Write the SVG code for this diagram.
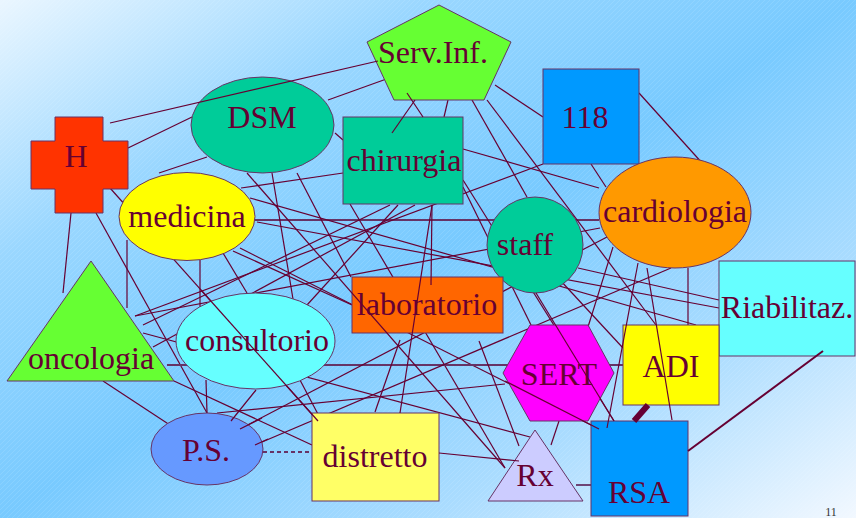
<svg xmlns="http://www.w3.org/2000/svg" width="856" height="518" viewBox="0 0 856 518">
<defs>
<linearGradient id="bg" x1="0" y1="0" x2="1" y2="1">
<stop offset="0" stop-color="#eaf6ff"/>
<stop offset="0.25" stop-color="#9ad7ff"/>
<stop offset="0.5" stop-color="#78caff"/>
<stop offset="0.75" stop-color="#aadcff"/>
<stop offset="1" stop-color="#f2f8ff"/>
</linearGradient>
<pattern id="hatch" width="5" height="5" patternUnits="userSpaceOnUse">
<path d="M0,5 L5,0" stroke="#ffffff" stroke-width="0.6" opacity="0.18"/>
</pattern>
<style>
.n{stroke:#663366;stroke-width:1}
.t{font-family:"Liberation Serif","Times New Roman",serif;font-size:32px;fill:#660033;text-anchor:middle}
.c line{stroke:#660033;stroke-width:1.2;fill:none}
.c line.w{stroke:#663366;stroke-width:1.8}
</style>
</defs>
<rect width="856" height="518" fill="url(#bg)"/>
<rect width="856" height="518" fill="url(#hatch)"/>

<g id="connectors" class="c">
<line x1="128" y1="148" x2="192" y2="117"/>
<line x1="328" y1="100" x2="392" y2="77"/>
<line x1="335" y1="133" x2="343" y2="140"/>
<line x1="159" y1="173" x2="207" y2="157"/>
<line x1="241" y1="188" x2="343" y2="173"/>
<line class="w" x1="255" y1="220" x2="599" y2="220"/>
<line x1="448" y1="100" x2="444" y2="117"/>
<line x1="495" y1="85" x2="543" y2="117"/>
<line x1="472" y1="100" x2="527" y2="197"/>
<line x1="487" y1="100" x2="656" y2="325"/>
<line x1="639" y1="93" x2="703" y2="164"/>
<line x1="543" y1="164" x2="135" y2="316"/>
<line x1="591" y1="164" x2="606" y2="187"/>
<line x1="463" y1="149" x2="599" y2="188"/>
<line x1="463" y1="180" x2="614" y2="421"/>
<line x1="463" y1="187" x2="531" y2="325"/>
<line x1="390" y1="205" x2="143" y2="325"/>
<line x1="398" y1="205" x2="307" y2="305"/>
<line x1="350" y1="204" x2="505" y2="468"/>
<line x1="135" y1="316" x2="600" y2="228"/>
<line x1="153" y1="347" x2="415" y2="205"/>
<line x1="143" y1="333" x2="530" y2="437"/>
<line x1="257" y1="222" x2="719" y2="308"/>
<line x1="250" y1="198" x2="696" y2="325"/>
<line x1="240" y1="248" x2="599" y2="429"/>
<line x1="200" y1="260" x2="200" y2="307"/>
<line x1="127" y1="240" x2="127" y2="308"/>
<line x1="223" y1="253" x2="247" y2="293"/>
<line x1="233" y1="251" x2="352" y2="305"/>
<line x1="96" y1="213" x2="207" y2="413"/>
<line x1="110" y1="188" x2="318" y2="421"/>
<line x1="71" y1="213" x2="63" y2="293"/>
<line x1="103" y1="381" x2="176" y2="429"/>
<line x1="174" y1="381" x2="312" y2="445"/>
<line class="w" x1="167" y1="365" x2="623" y2="365"/>
<line x1="206" y1="380" x2="207" y2="413"/>
<line x1="240" y1="429" x2="607" y2="237"/>
<line x1="255" y1="445" x2="671" y2="268"/>
<line x1="217" y1="413" x2="505" y2="384"/>
<line x1="300" y1="380" x2="320" y2="418"/>
<line x1="375" y1="412" x2="400" y2="340"/>
<line x1="272" y1="173" x2="293" y2="299"/>
<line x1="297" y1="173" x2="351" y2="277"/>
<line x1="560" y1="280" x2="623" y2="348"/>
<line x1="578" y1="268" x2="719" y2="300"/>
<line x1="613" y1="247" x2="588" y2="327"/>
<line x1="688" y1="268" x2="688" y2="325"/>
<line x1="559" y1="421" x2="551" y2="445"/>
<line class="w" x1="576" y1="485" x2="591" y2="485"/>
<line class="w" x1="263" y1="452" x2="312" y2="452" stroke-dasharray="4 3"/>
</g>

<g id="n-servinf"><polygon class="n" points="439,5 511,42 484,100 394,100 367,42" fill="#66ff33"/><text class="t" x="433" y="63">Serv.Inf.</text></g>
<g id="n-h"><polygon class="n" points="55,117 103,117 103,141 128,141 128,189 103,189 103,213 55,213 55,189 31,189 31,141 55,141" fill="#ff3300"/><text class="t" x="76" y="167">H</text></g>
<g id="n-dsm"><ellipse class="n" cx="262.5" cy="125" rx="71.5" ry="48" fill="#00cc99"/><text class="t" x="262" y="128">DSM</text></g>
<g id="n-chirurgia"><rect class="n" x="343" y="117" width="120" height="87" fill="#00cc99"/><text class="t" x="404" y="171">chirurgia</text></g>
<g id="n-118"><rect class="n" x="543" y="69" width="96" height="95" fill="#0099ff"/><text class="t" x="585" y="128">118</text></g>
<g id="n-medicina"><ellipse class="n" cx="187" cy="216.5" rx="68" ry="44" fill="#ffff00"/><text class="t" x="187" y="227">medicina</text></g>
<g id="n-cardiologia"><ellipse class="n" cx="675" cy="212.5" rx="76" ry="55.5" fill="#ff9900"/><text class="t" x="675" y="222">cardiologia</text></g>
<g id="n-staff"><circle class="n" cx="535" cy="245" r="48" fill="#00cc99"/><text class="t" x="525" y="255">staff</text></g>
<g id="n-laboratorio"><rect class="n" x="352" y="277" width="151" height="56" fill="#ff6600"/><text class="t" x="427" y="315">laboratorio</text></g>
<g id="n-riabilitaz"><rect class="n" x="719" y="261" width="136" height="95" fill="#66ffff"/><text class="t" x="787" y="318">Riabilitaz.</text></g>
<g id="n-adi"><rect class="n" x="623" y="325" width="96" height="80" fill="#ffff00"/><text class="t" x="671" y="377">ADI</text></g>
<g id="n-sert"><polygon class="n" points="503,373 530,325 588,325 614,373 588,421 530,421" fill="#ff00ff"/><text class="t" x="559" y="385">SERT</text></g>
<g id="n-rsa"><rect class="n" x="591" y="421" width="97" height="95" fill="#0099ff"/><text class="t" x="639" y="503">RSA</text></g>
<g id="n-rx"><polygon class="n" points="535,430 583,501 488,501" fill="#ccccff"/><text class="t" x="535" y="486">Rx</text></g>
<g id="n-distretto"><rect class="n" x="312" y="413" width="127" height="88" fill="#ffff66"/><text class="t" x="375" y="467">distretto</text></g>
<g id="n-ps"><ellipse class="n" cx="207" cy="449" rx="56" ry="36" fill="#6699ff"/><text class="t" x="206" y="461">P.S.</text></g>
<g id="n-consultorio"><ellipse class="n" cx="255.5" cy="341" rx="79.5" ry="48" fill="#66ffff"/><text class="t" x="257" y="351">consultorio</text></g>
<g id="n-oncologia"><polygon class="n" points="91,261 174,381 7,381" fill="#66ff33"/><text class="t" x="91" y="369">oncologia</text></g>

<g id="connectors-top" class="c">
<line x1="110" y1="123" x2="378" y2="61"/>
<line x1="407" y1="93" x2="423" y2="117"/>
<line x1="415" y1="100" x2="392" y2="133"/>
<line x1="432" y1="205" x2="431" y2="285"/>
<line x1="432" y1="205" x2="400" y2="413"/>
<line x1="201" y1="290" x2="318" y2="421"/>
<line x1="256" y1="390" x2="231" y2="421"/>
<line x1="240" y1="429" x2="262" y2="418"/>
<line x1="255" y1="445" x2="268" y2="439"/>
<line x1="439" y1="453" x2="519" y2="461"/>
<line x1="479" y1="341" x2="519" y2="446"/>
<line x1="247" y1="173" x2="505" y2="468"/>
<line x1="536" y1="293" x2="614" y2="421"/>
<line x1="505" y1="381" x2="599" y2="429"/>
<line x1="638" y1="263" x2="607" y2="428"/>
<line x1="647" y1="268" x2="672" y2="420"/>
<line x1="648" y1="405" x2="634" y2="421" style="stroke-width:6"/>
<line x1="688" y1="451" x2="823" y2="351" style="stroke-width:2"/>
</g>
<text x="831" y="516" style="font-family:'Liberation Serif',serif;font-size:12px;fill:#333333;text-anchor:middle">11</text>
</svg>
